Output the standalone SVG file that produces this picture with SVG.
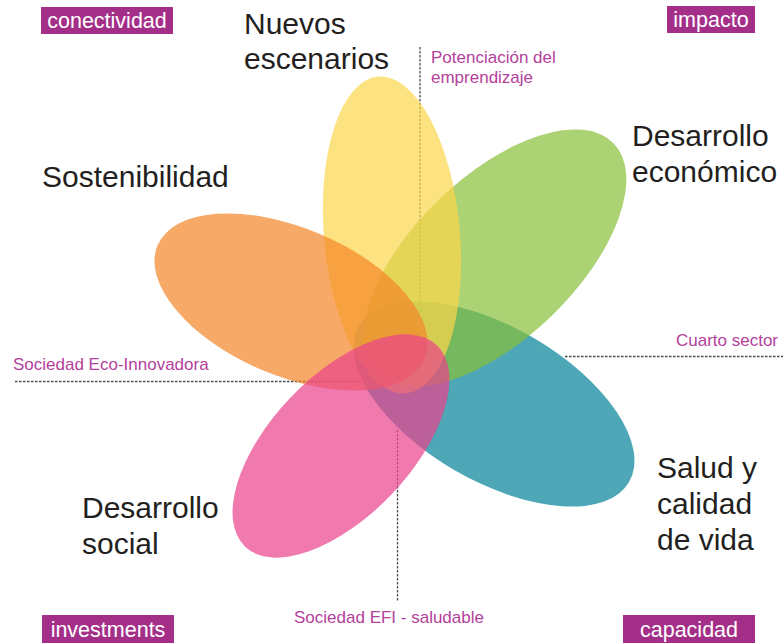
<svg xmlns="http://www.w3.org/2000/svg" width="783" height="644" viewBox="0 0 783 644">
<style>
.big{font-family:"Liberation Sans",Arial,sans-serif;font-size:30px;fill:#231f20}
.note{font-family:"Liberation Sans",Arial,sans-serif;font-size:17px;fill:#b4419b}
.tag{font-family:"Liberation Sans",Arial,sans-serif;font-size:21.5px;fill:#ffffff;text-anchor:middle}
.box{fill:#a42f89}
.dash{stroke:#4a4a4a;stroke-width:1.3;stroke-dasharray:2.5 1.5;fill:none}
.petal{fill-opacity:0.7}
</style>
<rect width="783" height="644" fill="#ffffff"/>
<g id="connectors">
<line class="dash" x1="420" y1="47" x2="420" y2="312"/>
<line class="dash" x1="397.5" y1="430" x2="397.5" y2="602"/>
<line class="dash" x1="15" y1="381.5" x2="363" y2="381.5"/>
<line class="dash" x1="565" y1="356.5" x2="783" y2="356.5"/>
</g>
<g id="salud">
<ellipse class="petal" fill="#028198" cx="494" cy="404" rx="156" ry="77" transform="rotate(30 494 404)"/>
<text class="big" x="657" y="478">Salud y</text>
<text class="big" x="657" y="514">calidad</text>
<text class="big" x="657" y="550">de vida</text>
</g>
<g id="economico">
<ellipse class="petal" fill="#88bf38" cx="495" cy="258" rx="165" ry="81" transform="rotate(-44 495 258)"/>
<text class="big" x="632" y="146">Desarrollo</text>
<text class="big" x="632" y="182">económico</text>
</g>
<g id="escenarios">
<ellipse class="petal" fill="#fcd64c" cx="392" cy="235" rx="68" ry="159" transform="rotate(-5 392 235)"/>
<text class="big" x="244" y="33.5">Nuevos</text>
<text class="big" x="244" y="68.5">escenarios</text>
</g>
<g id="sostenibilidad">
<ellipse class="petal" fill="#f48626" cx="291" cy="302" rx="145" ry="74" transform="rotate(23 291 302)"/>
<text class="big" x="42" y="187">Sostenibilidad</text>
</g>
<g id="social">
<ellipse class="petal" fill="#ea428b" cx="341" cy="446" rx="139" ry="70" transform="rotate(-46.4 341 446)"/>
<text class="big" x="82" y="518">Desarrollo</text>
<text class="big" x="82" y="554">social</text>
</g>
<g id="annotations">
<text class="note" x="431" y="63">Potenciación del</text>
<text class="note" x="431" y="82.5">emprendizaje</text>
<text class="note" x="13" y="370">Sociedad Eco-Innovadora</text>
<text class="note" x="778" y="346" text-anchor="end">Cuarto sector</text>
<text class="note" x="389" y="623" text-anchor="middle">Sociedad EFI - saludable</text>
</g>
<g id="conectividad">
<rect class="box" x="41" y="7" width="132" height="27"/>
<text class="tag" x="107" y="28">conectividad</text>
</g>
<g id="impacto">
<rect class="box" x="667" y="6" width="88" height="27"/>
<text class="tag" x="711" y="27">impacto</text>
</g>
<g id="investments">
<rect class="box" x="42" y="615" width="132" height="28"/>
<text class="tag" x="108" y="636.5">investments</text>
</g>
<g id="capacidad">
<rect class="box" x="623" y="615" width="132" height="28"/>
<text class="tag" x="689" y="636.5">capacidad</text>
</g>
</svg>
